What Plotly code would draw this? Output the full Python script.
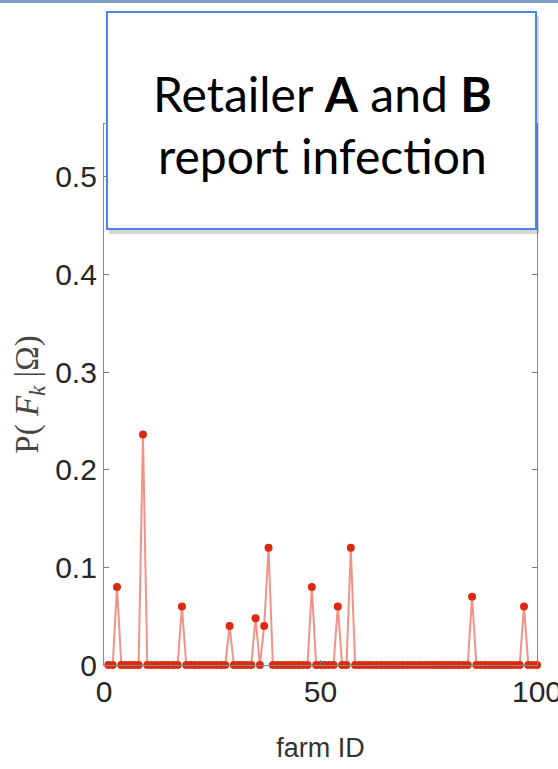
import plotly.graph_objects as go

farm_ids = list(range(1, 101))
prob = [
    0, 0, 0.08, 0, 0, 0, 0, 0, 0.236, 0,
    0, 0, 0, 0, 0, 0, 0, 0.06, 0, 0,
    0, 0, 0, 0, 0, 0, 0, 0, 0.04, 0,
    0, 0, 0, 0, 0.048, 0, 0.04, 0.12, 0, 0,
    0, 0, 0, 0, 0, 0, 0, 0.08, 0, 0,
    0, 0, 0, 0.06, 0, 0, 0.12, 0, 0, 0,
    0, 0, 0, 0, 0, 0, 0, 0, 0, 0,
    0, 0, 0, 0, 0, 0, 0, 0, 0, 0,
    0, 0, 0, 0, 0.07, 0, 0, 0, 0, 0,
    0, 0, 0, 0, 0, 0, 0.06, 0, 0, 0,
]
x_ticks = [0, 50, 100]
y_ticks = [0, 0.1, 0.2, 0.3, 0.4, 0.5]
y_tick_text = ["0", "0.1", "0.2", "0.3", "0.4", "0.5"]

sans = "Liberation Sans Narrow, Liberation Sans, Arial, sans-serif"
tick_font = dict(family=sans, size=30, color="#262626")

# plot area in pixels (from reference)
L, R, T, B = 104, 537, 124, 665
W, H = 558, 769

fig = go.Figure()
fig.add_trace(go.Scatter(
    x=farm_ids, y=prob, mode="lines+markers",
    line=dict(color="rgba(232,75,55,0.6)", width=2),
    marker=dict(color="#dc2a10", size=8, line=dict(width=0)),
    cliponaxis=False, showlegend=False, hoverinfo="x+y",
))

fig.update_layout(
    width=W, height=H,
    margin=dict(l=L, r=W - R, t=T, b=H - B, autoexpand=False),
    paper_bgcolor="white", plot_bgcolor="white",
    xaxis=dict(range=[0, 100], tickvals=x_ticks, ticks="inside", ticklen=5, tickcolor="#777777",
               showline=True, mirror="ticks", linecolor="#8a8a8a", linewidth=1.2,
               showgrid=False, zeroline=False, tickfont=tick_font, automargin=False,
               ticklabeloverflow="allow",
               title=dict(text="farm ID", font=dict(family=sans, size=27, color="#333333"), standoff=31)),
    yaxis=dict(range=[0, 0.554], tickvals=y_ticks, ticktext=y_tick_text, ticks="inside", ticklen=5, tickcolor="#777777",
               showline=True, mirror="ticks", linecolor="#8a8a8a", linewidth=1.2,
               showgrid=False, zeroline=False, tickfont=tick_font, automargin=False,
               ticklabeloverflow="allow",
               title=dict(text="P( <i>F</i><sub><i>k</i></sub> |Ω)", font=dict(family="Liberation Serif, DejaVu Serif, serif", size=33, color="#444444"), standoff=6)),
)

def px_x(v):
    return (v - L) / (R - L)

def px_y(v):
    return (B - v) / (B - T)

# slide top border
fig.add_shape(type="line", xref="paper", yref="paper", x0=px_x(0), x1=px_x(W), y0=px_y(1.5), y1=px_y(1.5),
              line=dict(color="#7fa0c4", width=3))
# text box shadow
fig.add_shape(type="rect", xref="paper", yref="paper",
              x0=px_x(109), x1=px_x(539), y0=px_y(234), y1=px_y(16),
              fillcolor="rgba(0,0,0,0.16)", line=dict(width=0), layer="above")
# text box
fig.add_shape(type="rect", xref="paper", yref="paper",
              x0=px_x(107), x1=px_x(536), y0=px_y(229), y1=px_y(12),
              fillcolor="white", line=dict(color="#4a86e8", width=2), layer="above")
fig.add_annotation(xref="paper", yref="paper", x=px_x(322), y=px_y(124),
                   xanchor="center", yanchor="middle",
                   text="Retailer <b>A</b> and <b>B</b><br>report infection",
                   showarrow=False, align="center",
                   font=dict(family="Lato, Open Sans, sans-serif", size=48, color="black"))

fig.write_html("out.html")
